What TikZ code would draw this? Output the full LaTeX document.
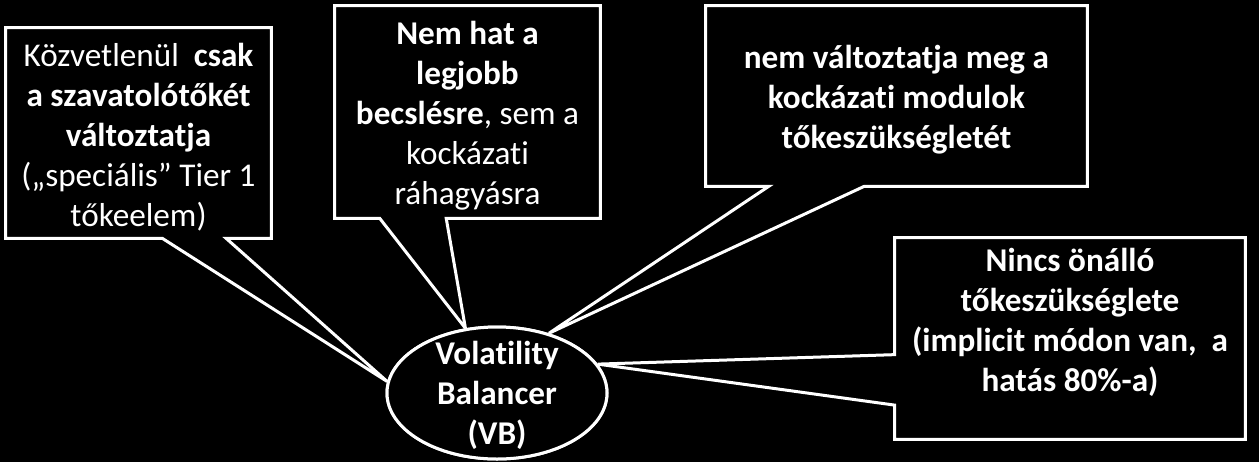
\documentclass[tikz,border=0pt]{standalone}
\usepackage{fontspec}
\setmainfont{Carlito}[Ligatures=NoCommon]
\usetikzlibrary{positioning,calc,shapes.geometric}

\begin{document}
\begin{tikzpicture}[
  x=0.5pt, y=-0.5pt,
  font=\fontsize{16.6}{20}\selectfont,
  frame/.style={inner sep=0pt, minimum width=#1},
  callout/.style={draw=white, fill=black, line width=1.5pt, line join=miter},
  txt/.style={text=white, align=center, inner sep=0pt},
  hub/.style={ellipse, draw=white, fill=black, line width=1.5pt,
              inner sep=0pt, minimum width=110pt, minimum height=66pt}]
\fill[black] (0,0) rectangle (1259,462);
\useasboundingbox (0,0) rectangle (1259,462);
% frames of the four callouts
\node[frame=132.5pt, minimum height=105pt] (f1) at (138.5,133) {};
\node[frame=132.5pt, minimum height=106pt] (f2) at (467.5,112) {};
\node[frame=190.5pt, minimum height=90pt] (f3) at (896.5,96) {};
\node[frame=175pt, minimum height=100.5pt] (f4) at (1070,338.5) {};
\node[hub] (vb) at (497,393) {};
\draw[callout] (f1.north west) -- (f1.north east) -- (f1.south east)
  -- ($(f1.south west)!0.83!(f1.south east)$) -- (vb.174)
  -- ($(f1.south west)!0.59!(f1.south east)$) -- (f1.south west) -- cycle;
\draw[callout] (f2.north west) -- (f2.north east) -- (f2.south east)
  -- ($(f2.south west)!0.42!(f2.south east)$) -- (vb.116)
  -- ($(f2.south west)!0.17!(f2.south east)$) -- (f2.south west) -- cycle;
\draw[callout] (f3.north west) -- (f3.north east) -- (f3.south east)
  -- ($(f3.south west)!0.415!(f3.south east)$) -- (vb.49)
  -- ($(f3.south west)!0.165!(f3.south east)$) -- (f3.south west) -- cycle;
\draw[callout] (f4.north west) -- (f4.north east) -- (f4.south east)
  -- (f4.south west) -- ($(f4.north west)!0.83!(f4.south west)$) -- (vb.16)
  -- ($(f4.north west)!0.58!(f4.south west)$) -- cycle;
\node[hub] at (vb) {};
% texts
\node[txt] (t1) at ([yshift=-2pt]f1.center) {Közvetlenül\ \ \textbf{csak}\\
  \textbf{a szavatolótőkét}\\\textbf{változtatja}\\(„speciális” Tier 1\\tőkeelem)};
\node[txt] (t2) at ([yshift=-2pt]f2.center) {\textbf{Nem hat a}\\\textbf{legjobb}\\
  \textbf{becslésre}, sem a\\kockázati\\ráhagyásra};
\node[txt, font=\fontsize{16.6}{20}\selectfont\bfseries] (t3) at ([yshift=-2pt]f3.center)
  {nem változtatja meg a\\kockázati modulok\\tőkeszükségletét};
\node[txt, font=\fontsize{16.6}{20}\selectfont\bfseries] (t4) at ([yshift=8pt]f4.center)
  {Nincs önálló\\tőkeszükséglete\\(implicit módon van,\ \ a\\hatás 80\%-a)};
\node[txt, font=\fontsize{16.6}{20}\selectfont\bfseries] (tvb) at ([yshift=-1pt]vb.center)
  {Volatility\\Balancer\\(VB)};
\end{tikzpicture}
\end{document}
